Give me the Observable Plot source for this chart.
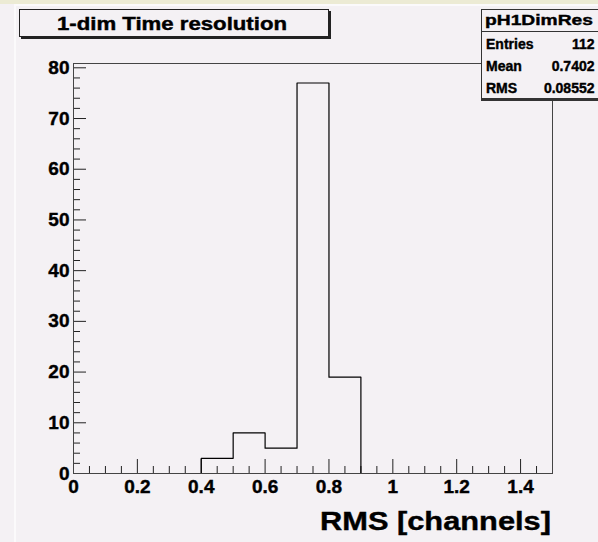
<!DOCTYPE html>
<html><head><meta charset="utf-8">
<script src="https://cdn.jsdelivr.net/npm/d3@7"></script>
<script src="https://cdn.jsdelivr.net/npm/@observablehq/plot@0.6"></script>
<style>
html,body{margin:0;padding:0;background:#f4f1f4;}
#wrap{position:relative;width:598px;height:542px;overflow:hidden;background:#f4f1f4;
  font-family:"Liberation Sans",Arial,Helvetica,sans-serif;font-weight:bold;color:#000;}
#chart{position:absolute;left:0;top:0;}
#chart text{stroke:#000;stroke-width:0.4px;}
#topband{position:absolute;left:0;top:0;width:598px;height:4px;background:#ecebd4;}
#topline{position:absolute;left:14px;top:4px;width:584px;height:2px;background:#fbfafb;}
#leftline{position:absolute;left:14px;top:4px;width:2px;height:538px;background:#fbfafb;}
#titlebox{position:absolute;left:19px;top:9px;width:308px;height:26px;border:1px solid #222;
  box-shadow:2px 2px 0 #222;background:#f4f1f4;}
#stats{position:absolute;left:481px;top:9px;width:130px;height:88px;border:1px solid #333;
  box-shadow:0 2px 0 #333;background:#f4f1f4;}
#statsep{position:absolute;left:481px;top:31px;width:130px;height:0;border-top:1px solid #333;}
#over{position:absolute;left:0;top:0;}
#over text{stroke:#000;stroke-width:0.4px;}
</style></head><body>
<div id="wrap">
  <div id="topband"></div><div id="topline"></div><div id="leftline"></div>
  <div id="chart"></div>
  <div id="titlebox"></div>
  <div id="stats"></div><div id="statsep"></div>
</div>
<script>
// ---- data ----
const binEdges = [0.4, 0.5, 0.6, 0.7, 0.8, 0.9];
const binCounts = [3, 8, 5, 77, 19];
const xTickLabels = [0, 0.2, 0.4, 0.6, 0.8, 1, 1.2, 1.4];
const yTickLabels = [0, 10, 20, 30, 40, 50, 60, 70, 80];
const histName = "pH1DimRes";
const statNames = ["Entries", "Mean", "RMS"];
const statValues = ["112", "0.7402", "0.08552"];
const chartTitle = "1-dim Time resolution";
const xTitle = "RMS [channels]";

// ---- layout ----
const W = 598, H = 542, mL = 73, mR = 46, mT = 63, mB = 69;
const fw = W - mL - mR, fh = H - mT - mB;

const xMinor = d3.range(0, 31).filter(i => i % 4 !== 0).map(i => i / 20);
const yMinor = d3.range(0, 81, 2).filter(v => v % 10 !== 0);

// step outline of histogram built from the bins
const stepPts = [{x: binEdges[0], y: 0}]
  .concat(binCounts.map((c, i) => ({x: binEdges[i], y: c})))
  .concat([{x: binEdges[binEdges.length - 1], y: 0}]);

const plot = Plot.plot({
  width: W, height: H,
  marginLeft: mL, marginRight: mR, marginTop: mT, marginBottom: mB,
  x: {domain: [0, 1.5]},
  y: {domain: [0, 80.85]},
  style: {background: "transparent", fontFamily: "'Liberation Sans', Arial, sans-serif",
          fontSize: "19px", fontWeight: "bold", color: "#000", overflow: "visible"},
  marks: [
    Plot.tickX(xMinor, {x: d => d, insetTop: fh - 7, stroke: "#222"}),
    Plot.tickX(xTickLabels, {x: d => d, insetTop: fh - 14, stroke: "#222"}),
    Plot.tickY(yMinor, {y: d => d, insetRight: fw - 7, stroke: "#222"}),
    Plot.tickY(yTickLabels, {y: d => d, insetRight: fw - 13, stroke: "#222"}),
    Plot.line(stepPts, {x: "x", y: "y", curve: "step-after", stroke: "#000", strokeWidth: 1.2}),
    Plot.frame({stroke: "#444"}),
    Plot.axisX(xTickLabels, {tickSize: 0, tickPadding: 6, tickFormat: d => String(d),
      fontSize: 19, fontWeight: "bold", label: null}),
    Plot.axisY(yTickLabels, {tickSize: 0, tickPadding: 4, tickFormat: d => String(d),
      fontSize: 19, fontWeight: "bold", label: null})
  ]
});
document.getElementById("chart").appendChild(plot);

// ---- text overlays (SVG, baseline-positioned) ----
const svg = d3.select("#wrap").append("svg").attr("id", "over")
  .attr("width", W).attr("height", H)
  .style("font-family", "'Liberation Sans', Arial, sans-serif").style("font-weight", "bold");
function txt(s, x, y, size, {anchor = "start", len = null} = {}) {
  const t = svg.append("text").attr("x", x).attr("y", y).attr("font-size", size)
    .attr("text-anchor", anchor).attr("fill", "#000").text(s);
  if (len) t.attr("textLength", len).attr("lengthAdjust", "spacingAndGlyphs");
  return t;
}
txt(chartTitle, 57, 29.5, 17.5, {len: 230});
txt(histName, 485, 24.5, 15, {len: 108});
const rowBase = [49, 70.5, 93];
statNames.forEach((n, i) => {
  txt(n, 486, rowBase[i], 14);
  txt(statValues[i], 594.5, rowBase[i], 14, {anchor: "end"});
});
txt(xTitle, 320, 529.5, 26, {len: 231});
</script>
</body></html>
